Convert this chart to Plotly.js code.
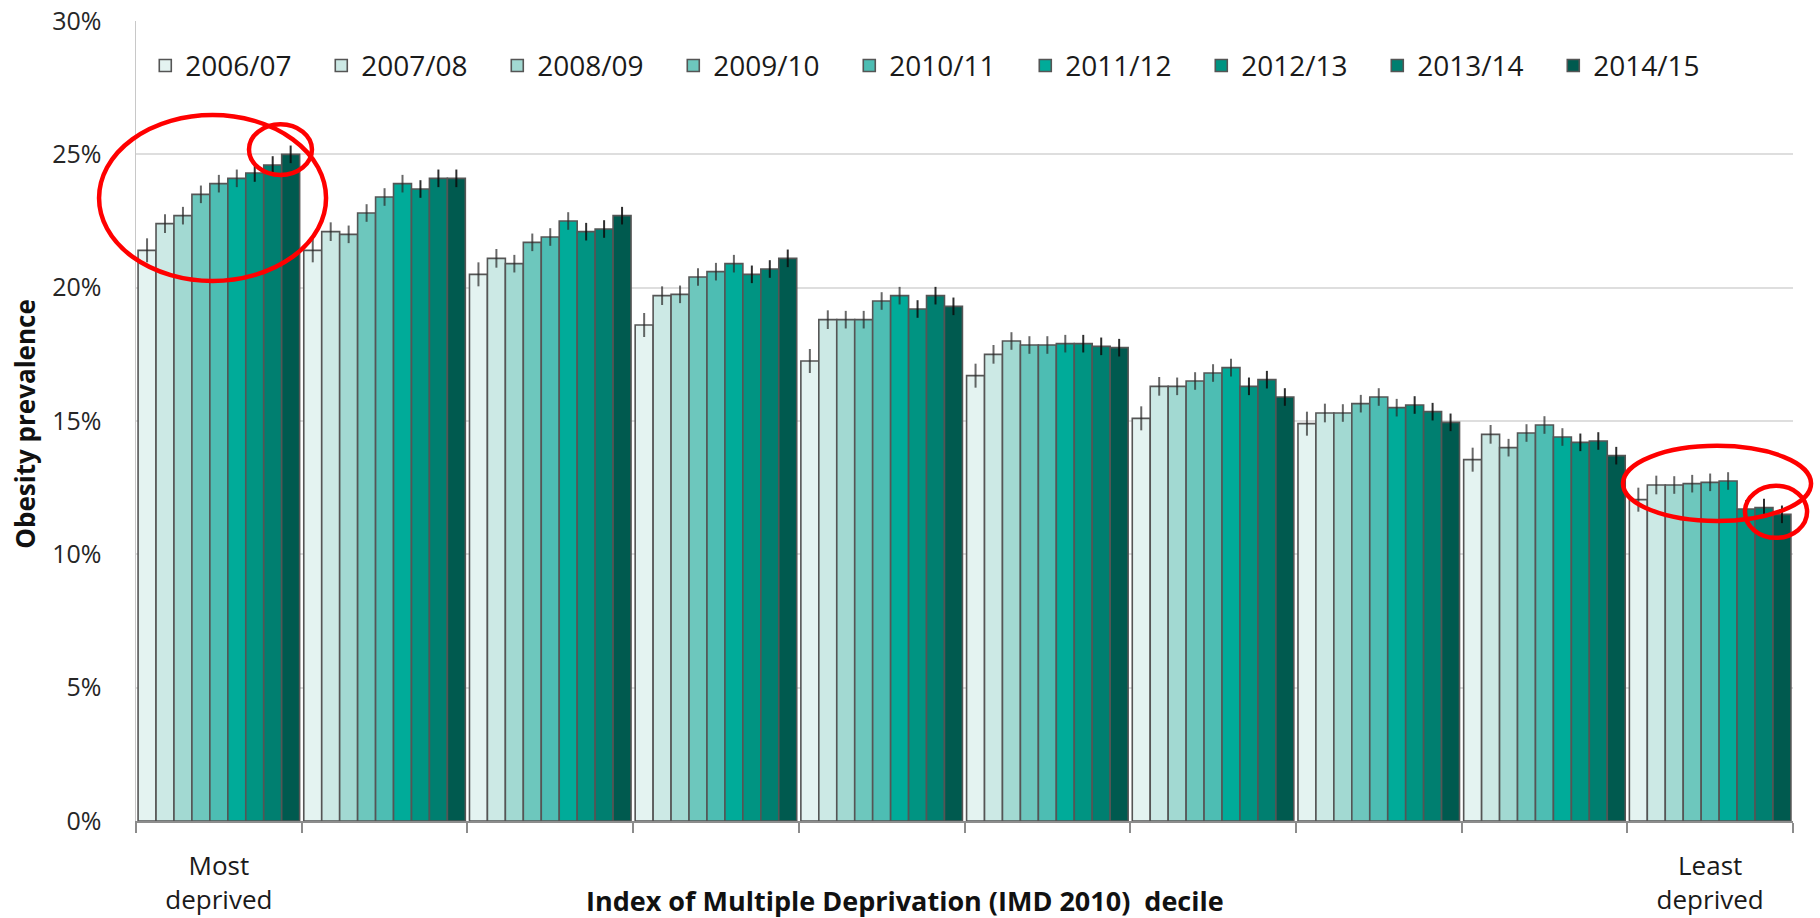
<!DOCTYPE html>
<html>
<head>
<meta charset="utf-8">
<script src="https://cdn.plot.ly/plotly-3.0.1.min.js"></script>
<style>
  html, body { margin: 0; padding: 0; background: #ffffff; }
  #chart { width: 1820px; height: 918px; }
</style>
</head>
<body>
<div id="chart"></div>
<script>
// IMD 2010 deciles (1 = most deprived, 10 = least deprived)
const deciles = ['1', '2', '3', '4', '5', '6', '7', '8', '9', '10'];
const decileLabels = ['Most<br>deprived', '', '', '', '', '', '', '', '', 'Least<br>deprived'];

const seasons = ['2006/07', '2007/08', '2008/09', '2009/10', '2010/11', '2011/12', '2012/13', '2013/14', '2014/15'];
const seasonColors = ['#e4f3f1', '#cce9e5', '#a2d9d2', '#6dc7bd', '#4dbdb3', '#00ab99', '#009482', '#007f70', '#005a4f'];

// Obesity prevalence (%) per decile, one array per season
const prev_2006_07 = [21.4, 21.4, 20.5, 18.6, 17.25, 16.7, 15.1, 14.9, 13.55, 12.05];
const prev_2007_08 = [22.4, 22.1, 21.1, 19.7, 18.8, 17.5, 16.3, 15.3, 14.5, 12.6];
const prev_2008_09 = [22.7, 22.0, 20.9, 19.75, 18.8, 18.0, 16.3, 15.3, 14.0, 12.6];
const prev_2009_10 = [23.5, 22.8, 21.7, 20.4, 18.8, 17.85, 16.5, 15.65, 14.55, 12.65];
const prev_2010_11 = [23.9, 23.4, 21.9, 20.6, 19.5, 17.85, 16.8, 15.9, 14.85, 12.7];
const prev_2011_12 = [24.1, 23.9, 22.5, 20.9, 19.7, 17.9, 17.0, 15.5, 14.4, 12.75];
const prev_2012_13 = [24.3, 23.7, 22.1, 20.5, 19.2, 17.9, 16.3, 15.6, 14.2, 11.7];
const prev_2013_14 = [24.6, 24.1, 22.2, 20.7, 19.7, 17.8, 16.55, 15.35, 14.25, 11.75];
const prev_2014_15 = [25.0, 24.1, 22.7, 21.1, 19.3, 17.75, 15.9, 14.95, 13.7, 11.5];

const prevalence = [prev_2006_07, prev_2007_08, prev_2008_09, prev_2009_10, prev_2010_11,
                    prev_2011_12, prev_2012_13, prev_2013_14, prev_2014_15];

// Half-width of the confidence interval (percentage points) per season
const ciHalfWidth = [0.45, 0.35, 0.33, 0.33, 0.33, 0.33, 0.33, 0.33, 0.33];

const yTickVals = [0, 5, 10, 15, 20, 25, 30];
const yTickLabels = ['0%', '5%', '10%', '15%', '20%', '25%', '30%'];

const FONT = 'Open Sans, Lato, sans-serif';

const traces = seasons.map((s, i) => ({
  type: 'bar',
  name: s,
  x: deciles,
  y: prevalence[i],
  marker: { color: seasonColors[i], line: { color: '#555555', width: 1.6 } },
  error_y: {
    type: 'constant',
    value: ciHalfWidth[i],
    visible: true,
    width: 0,
    thickness: 2,
    color: i >= 6 ? 'rgba(10,10,10,0.85)' : 'rgba(40,40,40,0.7)'
  },
  hoverinfo: 'name+y'
}));

const ellipse = (x0, x1, y0, y1) => ({
  type: 'circle', xref: 'paper', yref: 'paper',
  x0: x0, x1: x1, y0: y0, y1: y1,
  line: { color: '#ff0000', width: 4.5 }, layer: 'above'
});

const layout = {
  width: 1820,
  height: 918,
  margin: { l: 136, r: 27, t: 21, b: 97 },
  paper_bgcolor: '#ffffff',
  plot_bgcolor: '#ffffff',
  font: { family: FONT, color: '#1a1a1a', size: 26 },
  barmode: 'group',
  bargap: 0.025,
  bargroupgap: 0,
  showlegend: true,
  legend: {
    orientation: 'h',
    x: 0.0056, xanchor: 'left',
    y: 0.944, yanchor: 'middle',
    font: { family: FONT, size: 28, color: '#1a1a1a' },
    entrywidth: 131, entrywidthmode: 'pixels',
    bgcolor: 'rgba(0,0,0,0)',
    traceorder: 'normal'
  },
  xaxis: {
    type: 'category',
    tickmode: 'array',
    tickvals: deciles,
    ticktext: decileLabels,
    tickson: 'boundaries',
    ticks: 'outside',
    ticklen: 10,
    tickwidth: 2,
    tickcolor: '#8c8c8c',
    showline: true,
    linecolor: '#8c8c8c',
    linewidth: 2,
    showgrid: false,
    ticklabelstandoff: 21,
    tickfont: { family: FONT, size: 26, color: '#1a1a1a' },
    fixedrange: true
  },
  yaxis: {
    range: [0, 30],
    tickmode: 'array',
    tickvals: yTickVals,
    ticktext: yTickLabels,
    showgrid: true,
    gridcolor: '#dedede',
    gridwidth: 2,
    zeroline: false,
    showline: true,
    linecolor: '#c8c8c8',
    linewidth: 1.5,
    ticks: '',
    ticklabelstandoff: 28,
    tickfont: { family: FONT, size: 25, color: '#262626' },
    automargin: false,
    fixedrange: true
  },
  annotations: [{
    text: '<b>Index of Multiple Deprivation (IMD 2010)  decile</b>',
    xref: 'paper', yref: 'paper',
    x: 0.464, y: 0, xanchor: 'center', yanchor: 'middle',
    yshift: -79,
    showarrow: false,
    font: { family: FONT, size: 27, color: '#111111' }
  }, {
    text: '<b>Obesity prevalence</b>',
    xref: 'paper', yref: 'paper',
    x: -0.0667, y: 0.496, xanchor: 'center', yanchor: 'middle',
    textangle: -90,
    showarrow: false,
    font: { family: FONT, size: 26, color: '#111111' }
  }],
  shapes: [
    ellipse(-0.0223, 0.1147, 0.675, 0.8825),
    ellipse(0.0682, 0.1062, 0.8075, 0.871),
    ellipse(0.8974, 1.0109, 0.375, 0.469),
    ellipse(0.971, 1.0085, 0.354, 0.419)
  ]
};

Plotly.newPlot('chart', traces, layout, { displayModeBar: false, staticPlot: true });
</script>
</body>
</html>
